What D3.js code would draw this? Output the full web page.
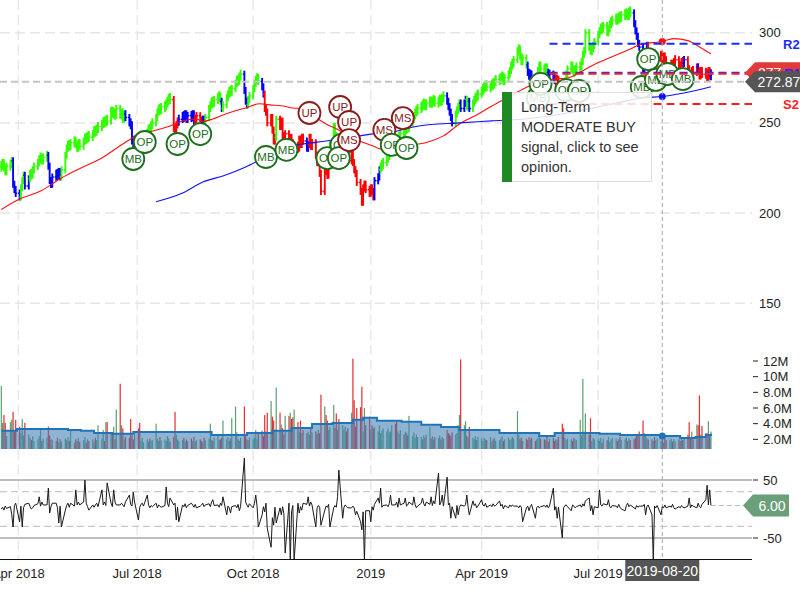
<!DOCTYPE html>
<html><head><meta charset="utf-8">
<script src="https://cdn.jsdelivr.net/npm/d3@7/dist/d3.min.js"></script>
<style>body{margin:0;background:#fff}svg{display:block;font-family:"Liberation Sans",Arial,sans-serif}</style>
</head><body><svg id="c" width="800" height="600"></svg>
<script>
// ---------------- DATA ----------------
const startDate = "2018-03-19"; // first trading day shown (weekdays follow)
const closes = [
226,228,225,223,226, 227,229,216,213,211, 209,214,218,221,215, 219,222,221,224,226,
228,230,231,229,231, 232,226,218,216,220, 222,221,223,220,224, 232,236,238,237,239,
240,238,236,239,237, 240,242,241,243,242, 244,246,245,247,248, 249,251,250,252,251,
257,255,256,254,258, 254,256,252,255,253, 250,249,240,239,241, 238,236,239,240,242,
245,247,246,249,250, 253,256,258,257,259, 259,261,262,264,263, 247,245,249,251,252,
254,253,255,252,254, 253,255,251,252,254, 251,250,252,249,253, 258,260,262,261,263,
264,265,262,258,260, 264,266,268,267,269, 272,274,273,276,277, 268,262,260,263,265,
269,272,274,275,273, 270,266,258,256,250, 253,246,240,242,252, 248,251,243,240,244,
238,242,239,237,237, 236,241,238,242,240, 236,238,242,237,239, 232,228,230,222,212,
226,223,221,230,238, 248,243,240,241,236, 240,243,244,238,229, 233,228,224,222,217,
212,206,214,216,213, 211,214,212,209,218, 220,224,226,227,228, 230,232,233,235,238,
236,234,241,243,244, 243,246,248,247,250, 252,254,256,257,258, 259,260,261,259,261,
262,261,262,263,261, 262,263,262,264,265, 262,259,256,253,250, 255,257,259,261,258,
261,263,259,262,258, 261,263,264,265,266, 268,269,270,271,270, 270,272,271,273,274,
274,275,276,273,275, 277,279,282,283,285, 290,291,287,284,286, 282,278,276,277,275,
272,276,279,282,280, 279,281,278,276,277, 275,274,273,274,272, 270,268,273,277,280,
282,279,278,280,281, 281,284,288,290,300, 292,290,291,293,295, 299,301,303,302,304,
300,302,305,306,307, 308,307,309,308,310, 310,311,309,312,311, 305,301,298,294,292,
279,286,288,293,289, 284,289,281,283,286, 288,284,287,285,278, 281,283,280,284,285,
282,280,284,283,285, 280,277,276,279,278, 281,279,276,279,277, 278,275,279,276,277.3];
const volumesM = [
8.8,4.1,5.1,4.1,2.4, 4.2,4.5,5.5,3.0,4.5, 3.6,2.8,4.6,2.5,4.1, 2.6,2.2,1.9,2.4,1.8,
2.0,2.4,3.2,1.8,2.1, 2.2,3.6,2.5,2.0,1.9, 1.8,2.2,1.6,2.0,1.7, 2.1,1.9,2.3,1.8,3.2,
1.6,2.0,1.8,2.2,1.7, 1.9,2.3,1.6,2.0,1.8, 2.0,1.7,2.2,1.9,3.8, 2.1,3.2,1.8,4.2,4.2,
2.7,2.7,3.6,2.0,5.8, 9.1,3.8,3.4,2.0,2.3, 2.2,4.6,2.5,2.0,2.9, 3.4,4.1,1.8,2.2,1.6,
2.0,1.7,2.1,1.8,1.9, 4.0,2.1,1.8,2.3,1.9, 2.0,1.8,2.4,2.1,1.7, 2.3,5.5,2.6,2.0,1.8,
1.9,2.2,1.7,2.0,1.8, 2.1,1.8,2.3,1.7,1.9, 2.0,1.8,1.6,2.2,1.9, 2.1,4.0,1.9,1.8,2.2,
2.6,1.9,2.0,2.2,4.4, 2.0,2.3,1.8,2.1,4.7, 6.2,2.9,2.0,1.8,2.2, 6.2,2.4,2.0,1.9,2.2,
2.0,2.2,3.2,2.0,2.7, 3.1,2.4,5.1,3.0,5.4, 6.9,4.9,4.4,3.2,8.6, 5.4,3.9,3.4,2.6,5.0,
5.0,5.4,4.6,4.8,5.8, 4.2,3.0,4.4,2.8,3.2, 2.8,3.0,2.6,3.4,2.9, 3.0,2.7,3.2,2.8,7.7,
6.2,5.1,4.4,3.2,3.6, 6.4,3.5,5.3,3.2,4.6, 3.8,3.3,3.6,3.0,3.4, 5.4,12.3,7.0,3.6,6.0,
6.1,8.7,3.0,6.0,3.8, 4.9,3.2,3.8,3.4,3.6, 3.0,3.8,2.8,3.1,3.4, 3.0,3.4,2.9,3.0,3.8,
4.0,4.3,3.0,2.7,3.2, 2.6,3.0,2.8,2.5,5.0, 2.4,2.9,2.2,2.6,2.3, 2.3,2.0,2.5,2.2,2.6,
3.6,2.1,2.4,2.0,2.3, 2.2,2.5,2.0,2.3,2.1, 3.2,2.8,2.6,2.4,2.9, 2.6,2.8,3.8,5.1,12.2,
3.8,4.3,2.4,2.2,3.6, 2.2,2.0,2.4,1.9,2.3, 2.1,1.8,2.2,2.0,1.9, 2.3,1.7,2.0,2.2,1.8,
1.9,2.1,2.4,1.8,2.0, 2.2,1.9,2.0,2.3,2.1, 5.6,2.6,2.0,2.2,1.8, 2.1,1.9,2.3,2.0,2.2,
1.8,2.0,2.2,2.9,2.1, 2.0,1.9,2.3,1.7,2.1, 2.2,1.8,2.0,1.9,2.3, 4.0,3.4,2.2,1.9,2.1,
2.0,1.8,2.2,2.0,1.9, 4.5,2.5,9.7,3.0,5.3, 2.6,4.7,1.8,2.2,2.0, 2.0,1.8,2.2,1.6,2.1,
1.9,2.3,1.7,2.0,2.2, 2.1,1.8,2.0,2.3,1.9, 2.0,2.2,1.8,2.1,1.9, 2.0,2.2,2.6,2.7,3.0,
4.4,2.8,2.4,2.1,2.0, 2.0,1.8,2.3,1.9,2.1, 1.8,2.0,1.6,2.2,1.9, 1.9,2.1,1.7,2.0,1.8,
2.0,1.8,2.2,1.9,2.1, 2.6,4.2,2.3,3.0,2.0, 3.9,3.8,7.6,2.6,3.7, 2.8,2.8,4.3,2.6,3.0];
const oscValues = [
0,3,-2,5,1, 4,-10,-31,6,10, -22,5,-31,2,8, 10,4,0,2,6, 9,21,5,12,7, 7,36,-7,4,10,
10,2,-24,5,-31, -2,6,10,3,10, 5,33,7,12,7, 12,50,10,4,-2, 7,3,7,10,4, 33,7,12,6,45,
10,4,33,12,7, 7,10,7,4,12, 24,8,5,29,12, -19,3,8,10,5, 24,7,2,6,4, 10,2,7,5,3,
6,38,10,4,19, 7,10,-19,3,-22, 7,4,9,2,6, 10,7,3,8,2, 5,7,10,4,7, 9,4,12,16,6,
7,3,10,6,21, -10,5,2,-7,4, 6,2,8,-3,4, 88,12,7,3,9, 2,10,24,5,-31, -10,4,-5,10,-33,
-66,-15,-28,3,-24, 2,-10,4,-8,-76, 10,-90,-5,6,-90, 10,-7,4,-2,10, 8,21,5,12,7, -31,2,6,3,-28,
-2,5,3,8,-31, 2,6,3,21,67, -16,3,7,4,2, 2,5,2,-10,-4, -22,-36,-5,-90,-3, -3,-22,4,-2,8,
19,10,36,3,6, 7,4,9,24,7, 7,12,3,19,7, 10,19,5,7,12, 7,21,8,2,5, 10,19,9,5,12,
8,21,6,14,9, 62,7,12,24,5, 55,7,10,-16,4, -16,6,-10,3,7, 5,8,24,4,-10, 14,6,9,2,5,
16,7,5,10,3, 7,4,9,5,6, 14,5,8,0,6, 2,7,4,7,5, 5,2,6,3,-22, 2,5,-3,4,8,
-16,2,5,2,4, 6,3,7,2,5, 36,-2,4,-16,3, -50,2,6,7,4, -3,7,5,2,4, 7,3,9,5,14,
19,-3,6,-10,4, 2,33,7,5,9, 7,16,4,2,6, 5,2,8,3,0, -3,6,10,4,7, 2,0,6,3,5,
5,8,-10,4,7, -10,-90,5,2,6, -10,4,2,7,2, 5,3,8,2,0, 4,2,6,3,2, 5,19,2,7,5,
2,10,4,2,8, 16,41,7,33,6];
// trend colour runs: [start date, G=green / B=blue / R=red]
const trendRuns = [["2018-03-19","G"],["2018-03-28","B"],["2018-04-03","G"],["2018-04-06","B"],["2018-04-10","G"],
["2018-04-24","B"],["2018-05-04","G"],["2018-06-22","B"],["2018-06-29","R"],["2018-07-02","B"],["2018-07-06","G"],
["2018-07-30","R"],["2018-08-03","B"],["2018-08-16","R"],["2018-08-22","B"],["2018-08-24","G"],["2018-09-06","B"],
["2018-09-07","G"],["2018-09-24","B"],["2018-09-27","G"],["2018-10-08","B"],["2018-10-10","R"],["2018-10-19","G"],
["2018-10-22","R"],["2018-11-12","B"],["2018-11-14","R"],["2018-11-30","G"],["2018-12-06","B"],["2018-12-10","G"],
["2018-12-13","R"],["2019-01-04","B"],["2019-01-09","G"],["2019-03-04","B"],["2019-03-11","G"],["2019-03-15","B"],
["2019-03-20","G"],["2019-03-22","B"],["2019-03-25","G"],["2019-05-07","B"],["2019-05-14","G"],["2019-05-23","B"],
["2019-05-29","R"],["2019-06-06","G"],["2019-07-29","B"],["2019-08-09","R"],["2019-08-12","B"],["2019-08-13","R"],
["2019-09-06","B"],["2019-09-09","R"],["2019-09-17","B"],["2019-09-18","R"],["2019-09-27","B"]];
const smaShort = [["2018-03-19",202],["2018-04-02",207.8],["2018-04-18",212.2],["2018-05-04",219.4],["2018-05-19",225],
["2018-06-04",230.6],["2018-06-20",238.3],["2018-06-30",242.8],["2018-07-14",245.6],["2018-07-27",248.3],["2018-08-06",251.1],
["2018-08-17",252.2],["2018-08-22",250.8],["2018-08-30",252.2],["2018-09-07",254.4],["2018-09-17",256.7],["2018-09-25",258.3],
["2018-10-06",260.6],["2018-10-14",260],["2018-10-24",259.4],["2018-11-01",258.3],["2018-11-09",257.8],["2018-11-17",253.9],
["2018-11-27",249.4],["2018-12-05",246.7],["2018-12-12",243.9],["2018-12-23",240],["2019-01-03",237.2],["2019-01-09",235.6],
["2019-01-18",237.2],["2019-02-09",238.3],["2019-02-19",240],["2019-03-01",242.8],["2019-03-14",249.4],["2019-03-28",254.4],
["2019-04-09",259.4],["2019-04-22",264.4],["2019-05-05",269.4],["2019-05-18",273.3],["2019-05-29",274.4],["2019-06-08",275],
["2019-06-16",277.8],["2019-06-26",281.7],["2019-07-10",286.1],["2019-07-23",290],["2019-08-05",293.9],["2019-08-19",295],
["2019-08-29",296.7],["2019-09-09",295.6],["2019-09-19",291.7],["2019-09-27",288.3]];
const smaLong = [["2018-07-16",206.3],["2018-08-06",211.1],["2018-08-22",217.2],["2018-09-07",220.6],["2018-09-25",225.6],
["2018-10-06",229.4],["2018-10-24",236.1],["2018-11-09",238.3],["2018-11-27",240],["2018-12-18",242.2],["2019-01-03",243.9],
["2019-01-18",245],["2019-02-09",248.3],["2019-03-14",250],["2019-04-09",251.1],["2019-05-05",252.2],["2019-06-08",255.6],
["2019-07-01",258.9],["2019-07-23",262.2],["2019-08-05",263.9],["2019-08-20",264.6],["2019-09-27",270]];
const volAvgM = [["2018-03-19",3.08],["2018-03-31",3.33],["2018-04-18",3.33],["2018-05-09",3.2],["2018-05-19",3.08],
["2018-05-29",2.82],["2018-06-12",2.7],["2018-06-28",2.95],["2018-07-27",2.95],["2018-08-22",2.95],["2018-08-29",2.56],
["2018-09-15",2.56],["2018-09-26",2.82],["2018-10-04",2.82],["2018-10-16",3.08],["2018-10-31",3.46],["2018-11-16",3.97],
["2018-12-02",4.1],["2018-12-18",4.49],["2018-12-26",4.74],["2019-01-06",4.36],["2019-01-26",4.23],["2019-02-11",3.85],
["2019-02-27",3.59],["2019-03-14",3.2],["2019-03-30",3.2],["2019-04-15",2.82],["2019-04-30",2.82],["2019-05-16",2.44],
["2019-05-28",2.82],["2019-06-17",2.82],["2019-07-02",2.7],["2019-07-18",2.56],["2019-08-03",2.56],["2019-08-20",2.44],
["2019-09-03",2.18],["2019-09-15",2.31],["2019-09-23",2.56],["2019-09-27",2.7]];
// opinion markers
const sigDates  = ["2018-06-28","2018-07-07","2018-08-02","2018-08-20","2018-10-11","2018-10-27","2018-11-28","2018-12-09","2018-12-07","2018-11-14","2018-12-08","2018-12-15","2018-12-15","2019-01-12","2019-01-27","2019-01-18","2019-01-30","2019-05-15","2019-05-17","2019-06-06","2019-06-16","2019-08-04","2019-08-15","2019-08-24","2019-09-05","2019-08-09"];
const sigPrices = [230.0,239.4,238.3,243.8,231.1,235.0,230.5,237.8,230.5,255.5,258.8,250.5,240.5,246.1,252.7,237.8,236.1,263.8,271.6,268.2,267.7,269.9,273.8,277.1,274.3,285.4];
const sigLabels = ["MB","OP","OP","OP","MB","MB","OP","OP","OP","UP","UP","UP","MS","MS","MS","OP","OP","MB","OP","OP","OP","MB","MB","MB","MB","OP"];
const pivotNames  = ["R2","R1","S1","S2"];
const pivotValues = [293.9,277.8,277.2,260.5];
const pivotStart = "2019-05-24";
const lastPriceTag = "277.30";
const crossDate = "2019-08-20", crossPrice = 272.87, oscLast = 6.00;
const priceTicks = [150,200,250,300];
const volTicks = [2e6,4e6,6e6,8e6,10e6,12e6];
const volTickLabels = ["2.0M","4.0M","6.0M","8.0M","10M","12M"];
const oscTicks = [50,-50];
const xTickDates = ["2018-04-01","2018-07-01","2018-10-01","2019-01-01","2019-04-01","2019-07-01"];
const xTickLabels = ["Apr 2018","Jul 2018","Oct 2018","2019","Apr 2019","Jul 2019"];
const tipLines = ["Long-Term","MODERATE BUY","signal, click to see","opinion."];

// ---------------- LAYOUT ----------------
const parse = d3.utcParse("%Y-%m-%d");
const R = 752;
const svg = d3.select("#c");
const x = d3.scaleUtc().domain(xTickDates.map(parse)).range([18.3,137.2,253.2,370.8,481.6,598.2]);
const y = d3.scaleLinear().domain([150,300]).range([303.3,32.7]);
const yv = d3.scaleLinear().domain([0,12e6]).range([455,361]);
const yo = d3.scaleLinear().domain([-50,50]).range([538,480]);

const dates = [];
for (let d = parse(startDate); dates.length < closes.length; d = d3.utcDay.offset(d,1)) {
  const wd = d.getUTCDay(); if (wd !== 0 && wd !== 6) dates.push(d);
}
const runs = trendRuns.map(r => [parse(r[0]), r[1]]);
const tcol = {G:"#33ff00", B:"#0000ff", R:"#ff0000"};
function trendAt(d){ let c="G"; for (const r of runs){ if (r[0] <= d) c = r[1]; } return c; }

const defs = svg.append("defs");
function clip(id,x0,y0,w,h){ defs.append("clipPath").attr("id",id).append("rect").attr("x",x0).attr("y",y0).attr("width",w).attr("height",h); }
clip("cp",0,0,R,350); clip("cv",0,350,R,99); clip("co",0,452,R,107);

// grid
const grid = svg.append("g");
xTickDates.forEach(t => grid.append("line").attr("x1",x(parse(t))).attr("x2",x(parse(t))).attr("y1",0).attr("y2",559)
  .attr("stroke","#e9e9e9").attr("stroke-width",1.5).attr("stroke-dasharray","10,5"));
priceTicks.forEach(t => grid.append("line").attr("x1",0).attr("x2",R).attr("y1",y(t)).attr("y2",y(t))
  .attr("stroke","#e6e6e6").attr("stroke-width",1.5).attr("stroke-dasharray","10,5"));

// ---- price panel
const gp = svg.append("g").attr("clip-path","url(#cp)");
const bars = gp.append("g");
closes.forEach((c,i) => {
  const o = i ? closes[i-1] : c;
  const xx = x(dates[i]);
  let y1 = y(Math.max(o,c)) - 3.5, y2 = y(Math.min(o,c)) + 3.5;
  if (y2 - y1 < 11) { const m = (y1+y2)/2; y1 = m-5.5; y2 = m+5.5; }
  const col = tcol[trendAt(dates[i])];
  bars.append("line").attr("x1",xx).attr("x2",xx).attr("y1",y1).attr("y2",y2).attr("stroke",col).attr("stroke-width",1.9);
  bars.append("line").attr("x1",xx-1.6).attr("x2",xx).attr("y1",y(o)).attr("y2",y(o)).attr("stroke",col).attr("stroke-width",1.4);
  bars.append("line").attr("x1",xx).attr("x2",xx+1.6).attr("y1",y(c)).attr("y2",y(c)).attr("stroke",col).attr("stroke-width",1.4);
});
const lineP = d3.line().x(d => x(parse(d[0]))).y(d => y(d[1])).curve(d3.curveMonotoneX);
gp.append("path").attr("d",lineP(smaShort)).attr("fill","none").attr("stroke","#ff1010").attr("stroke-width",1.1);
gp.append("path").attr("d",lineP(smaLong)).attr("fill","none").attr("stroke","#1010ff").attr("stroke-width",1.1);

// crosshair dots
function interp(arr, d){ const ds = arr.map(a=>parse(a[0])); const i = d3.bisectLeft(ds,d); if(i<=0) return arr[0][1]; if(i>=arr.length) return arr[arr.length-1][1];
  const t=(d-ds[i-1])/(ds[i]-ds[i-1]); return arr[i-1][1]+t*(arr[i][1]-arr[i-1][1]); }
const cd = parse(crossDate), cx = x(cd);
gp.append("circle").attr("cx",cx).attr("cy",y(interp(smaShort,cd))).attr("r",3.5).attr("fill","#ff1010");
gp.append("circle").attr("cx",cx).attr("cy",y(interp(smaLong,cd))).attr("r",3.5).attr("fill","#1010ff");

// signals
const sg = gp.append("g");
sigDates.forEach((d,i) => {
  const red = sigLabels[i] === "UP" || sigLabels[i] === "MS";
  const col = red ? "#8a1c1c" : "#1d6e1d";
  const g = sg.append("g").attr("transform",`translate(${x(parse(d))},${y(sigPrices[i])})`);
  g.append("circle").attr("r",11).attr("fill","#fff").attr("stroke",col).attr("stroke-width",1.8);
  g.append("text").attr("text-anchor","middle").attr("dy","0.36em").attr("font-size",11.5).attr("fill",col).text(sigLabels[i]);
});

// pivot lines
const pcol = ["#1a2cff","#1a2cff","#ff2020","#ff2020"];
pivotValues.forEach((v,i) => {
  svg.append("line").attr("x1",x(parse(pivotStart))).attr("x2",R).attr("y1",y(v)).attr("y2",y(v))
    .attr("stroke",pcol[i]).attr("stroke-width",2).attr("stroke-dasharray","8,5");
});

// crosshair lines
svg.append("line").attr("x1",0).attr("x2",R).attr("y1",y(crossPrice)).attr("y2",y(crossPrice))
  .attr("stroke","#c4c4c4").attr("stroke-width",2).attr("stroke-dasharray","7,4");
svg.append("line").attr("x1",cx).attr("x2",cx).attr("y1",0).attr("y2",559)
  .attr("stroke","#a8a8a8").attr("stroke-width",1).attr("stroke-dasharray","4,3");

// ---- volume panel
const gv = svg.append("g").attr("clip-path","url(#cv)");
volumesM.forEach((v,i) => {
  const up = i === 0 || closes[i] >= closes[i-1];
  const xx = x(dates[i]);
  gv.append("rect").attr("x",xx-0.6).attr("width",1.2).attr("y",yv(v*1e6)).attr("height",449-yv(v*1e6))
    .attr("fill", up ? "#5b9e70" : "#e62e2e");
});
const va = volAvgM.map(d => [parse(d[0]), d[1]*1e6]);
gv.append("path").attr("d", d3.area().x(d=>x(d[0])).y0(449).y1(d=>yv(d[1])).curve(d3.curveStepAfter)(va))
  .attr("fill","rgba(62,125,180,0.58)");
gv.append("path").attr("d", d3.line().x(d=>x(d[0])).y(d=>yv(d[1])).curve(d3.curveStepAfter)(va))
  .attr("fill","none").attr("stroke","#2274b8").attr("stroke-width",2);
{ let vv = va[0][1]; va.forEach(p => { if (p[0] <= cd) vv = p[1]; });
  gv.append("circle").attr("cx",cx).attr("cy",yv(vv)).attr("r",3.5).attr("fill","#2274b8"); }

// ---- oscillator panel
[50,-50].forEach(t => svg.append("line").attr("x1",0).attr("x2",R).attr("y1",yo(t)).attr("y2",yo(t)).attr("stroke","#a9a9a9").attr("stroke-width",1.6));
[30,-30].forEach(t => svg.append("line").attr("x1",0).attr("x2",R).attr("y1",yo(t)).attr("y2",yo(t)).attr("stroke","#c8c8c8").attr("stroke-width",1.2).attr("stroke-dasharray","7,4"));
const go = svg.append("g").attr("clip-path","url(#co)");
go.append("path").attr("d", d3.line().x((d,i)=>x(dates[i])).y(d=>yo(d))(oscValues))
  .attr("fill","none").attr("stroke","#1a1a1a").attr("stroke-width",1);
const lastX = x(dates[dates.length-1]);
svg.append("line").attr("x1",lastX).attr("x2",745).attr("y1",yo(oscLast)).attr("y2",yo(oscLast))
  .attr("stroke","#bbb").attr("stroke-dasharray","5,3");

// bottom axis
svg.append("line").attr("x1",0).attr("x2",R).attr("y1",559.5).attr("y2",559.5).attr("stroke","#111").attr("stroke-width",1.2);
xTickDates.forEach((t,i) => svg.append("text").attr("x",x(parse(t))).attr("y",578).attr("text-anchor","middle")
  .attr("font-size",13).attr("fill","#222").text(xTickLabels[i]));

// tooltip
const tip = svg.append("g");
tip.append("rect").attr("x",502.5).attr("y",92.5).attr("width",149).attr("height",89).attr("fill","rgba(255,255,255,0.85)").attr("stroke","#ddd");
tip.append("rect").attr("x",502).attr("y",92).attr("width",10).attr("height",90).attr("fill","#1f8a24");
tipLines.forEach((t,i) => tip.append("text").attr("x",521).attr("y",112+i*20).attr("font-size",14.5).attr("fill","#333").text(t));

// right axis labels
priceTicks.forEach(t => svg.append("text").attr("x",759).attr("y",y(t)+4.5).attr("font-size",13).attr("fill","#222").text(t));
volTicks.forEach((t,i) => {
  svg.append("line").attr("x1",753).attr("x2",758).attr("y1",yv(t)).attr("y2",yv(t)).attr("stroke","#222");
  svg.append("text").attr("x",763).attr("y",yv(t)+4.5).attr("font-size",13).attr("fill","#222").text(volTickLabels[i]);
});
oscTicks.forEach(t => {
  svg.append("line").attr("x1",753).attr("x2",758).attr("y1",yo(t)).attr("y2",yo(t)).attr("stroke","#222");
  svg.append("text").attr("x",763).attr("y",yo(t)+4.5).attr("font-size",13).attr("fill","#222").text(t);
});
// pivot labels that sit clear of the price tags
[0,3].forEach(i => svg.append("text").attr("x",783).attr("y",y(pivotValues[i])+5).attr("font-size",13)
  .attr("font-weight","bold").attr("fill",pcol[i]).text(pivotNames[i]));

function tag(cy, h, fill, txt, x0, x1, tx){
  svg.append("path").attr("d",`M${x0-10},${cy}L${x0},${cy-h/2}L${x1},${cy-h/2}L${x1},${cy+h/2}L${x0},${cy+h/2}Z`).attr("fill",fill);
  if (txt) svg.append("text").attr("x",tx).attr("y",cy+5).attr("text-anchor","middle").attr("font-size",14).attr("fill","#fff").text(txt);
}
// last-price tag with the R1 label on it, partly covered by the crosshair price tag
tag(y(closes[closes.length-1])-1, 21, "#e03a3a", null, 755, 800);
svg.append("text").attr("x",758).attr("y",y(closes[closes.length-1])+4).attr("font-size",14).attr("fill","#fff").text(lastPriceTag.slice(0,3));
svg.append("text").attr("x",784).attr("y",y(closes[closes.length-1])+4).attr("font-size",13).attr("font-weight","bold").attr("fill",pcol[1]).text(pivotNames[1]);
tag(y(crossPrice), 21, "#555", crossPrice.toFixed(2), 755, 800, 779);
tag(yo(oscLast), 22, "#6a9f79", oscLast.toFixed(2), 753, 789, 772);

// date label
svg.append("rect").attr("x",cx-37).attr("y",560).attr("width",74).attr("height",21).attr("fill","#555");
svg.append("text").attr("x",cx).attr("y",575.5).attr("text-anchor","middle").attr("font-size",14).attr("fill","#fff").text(crossDate);
</script></body></html>
